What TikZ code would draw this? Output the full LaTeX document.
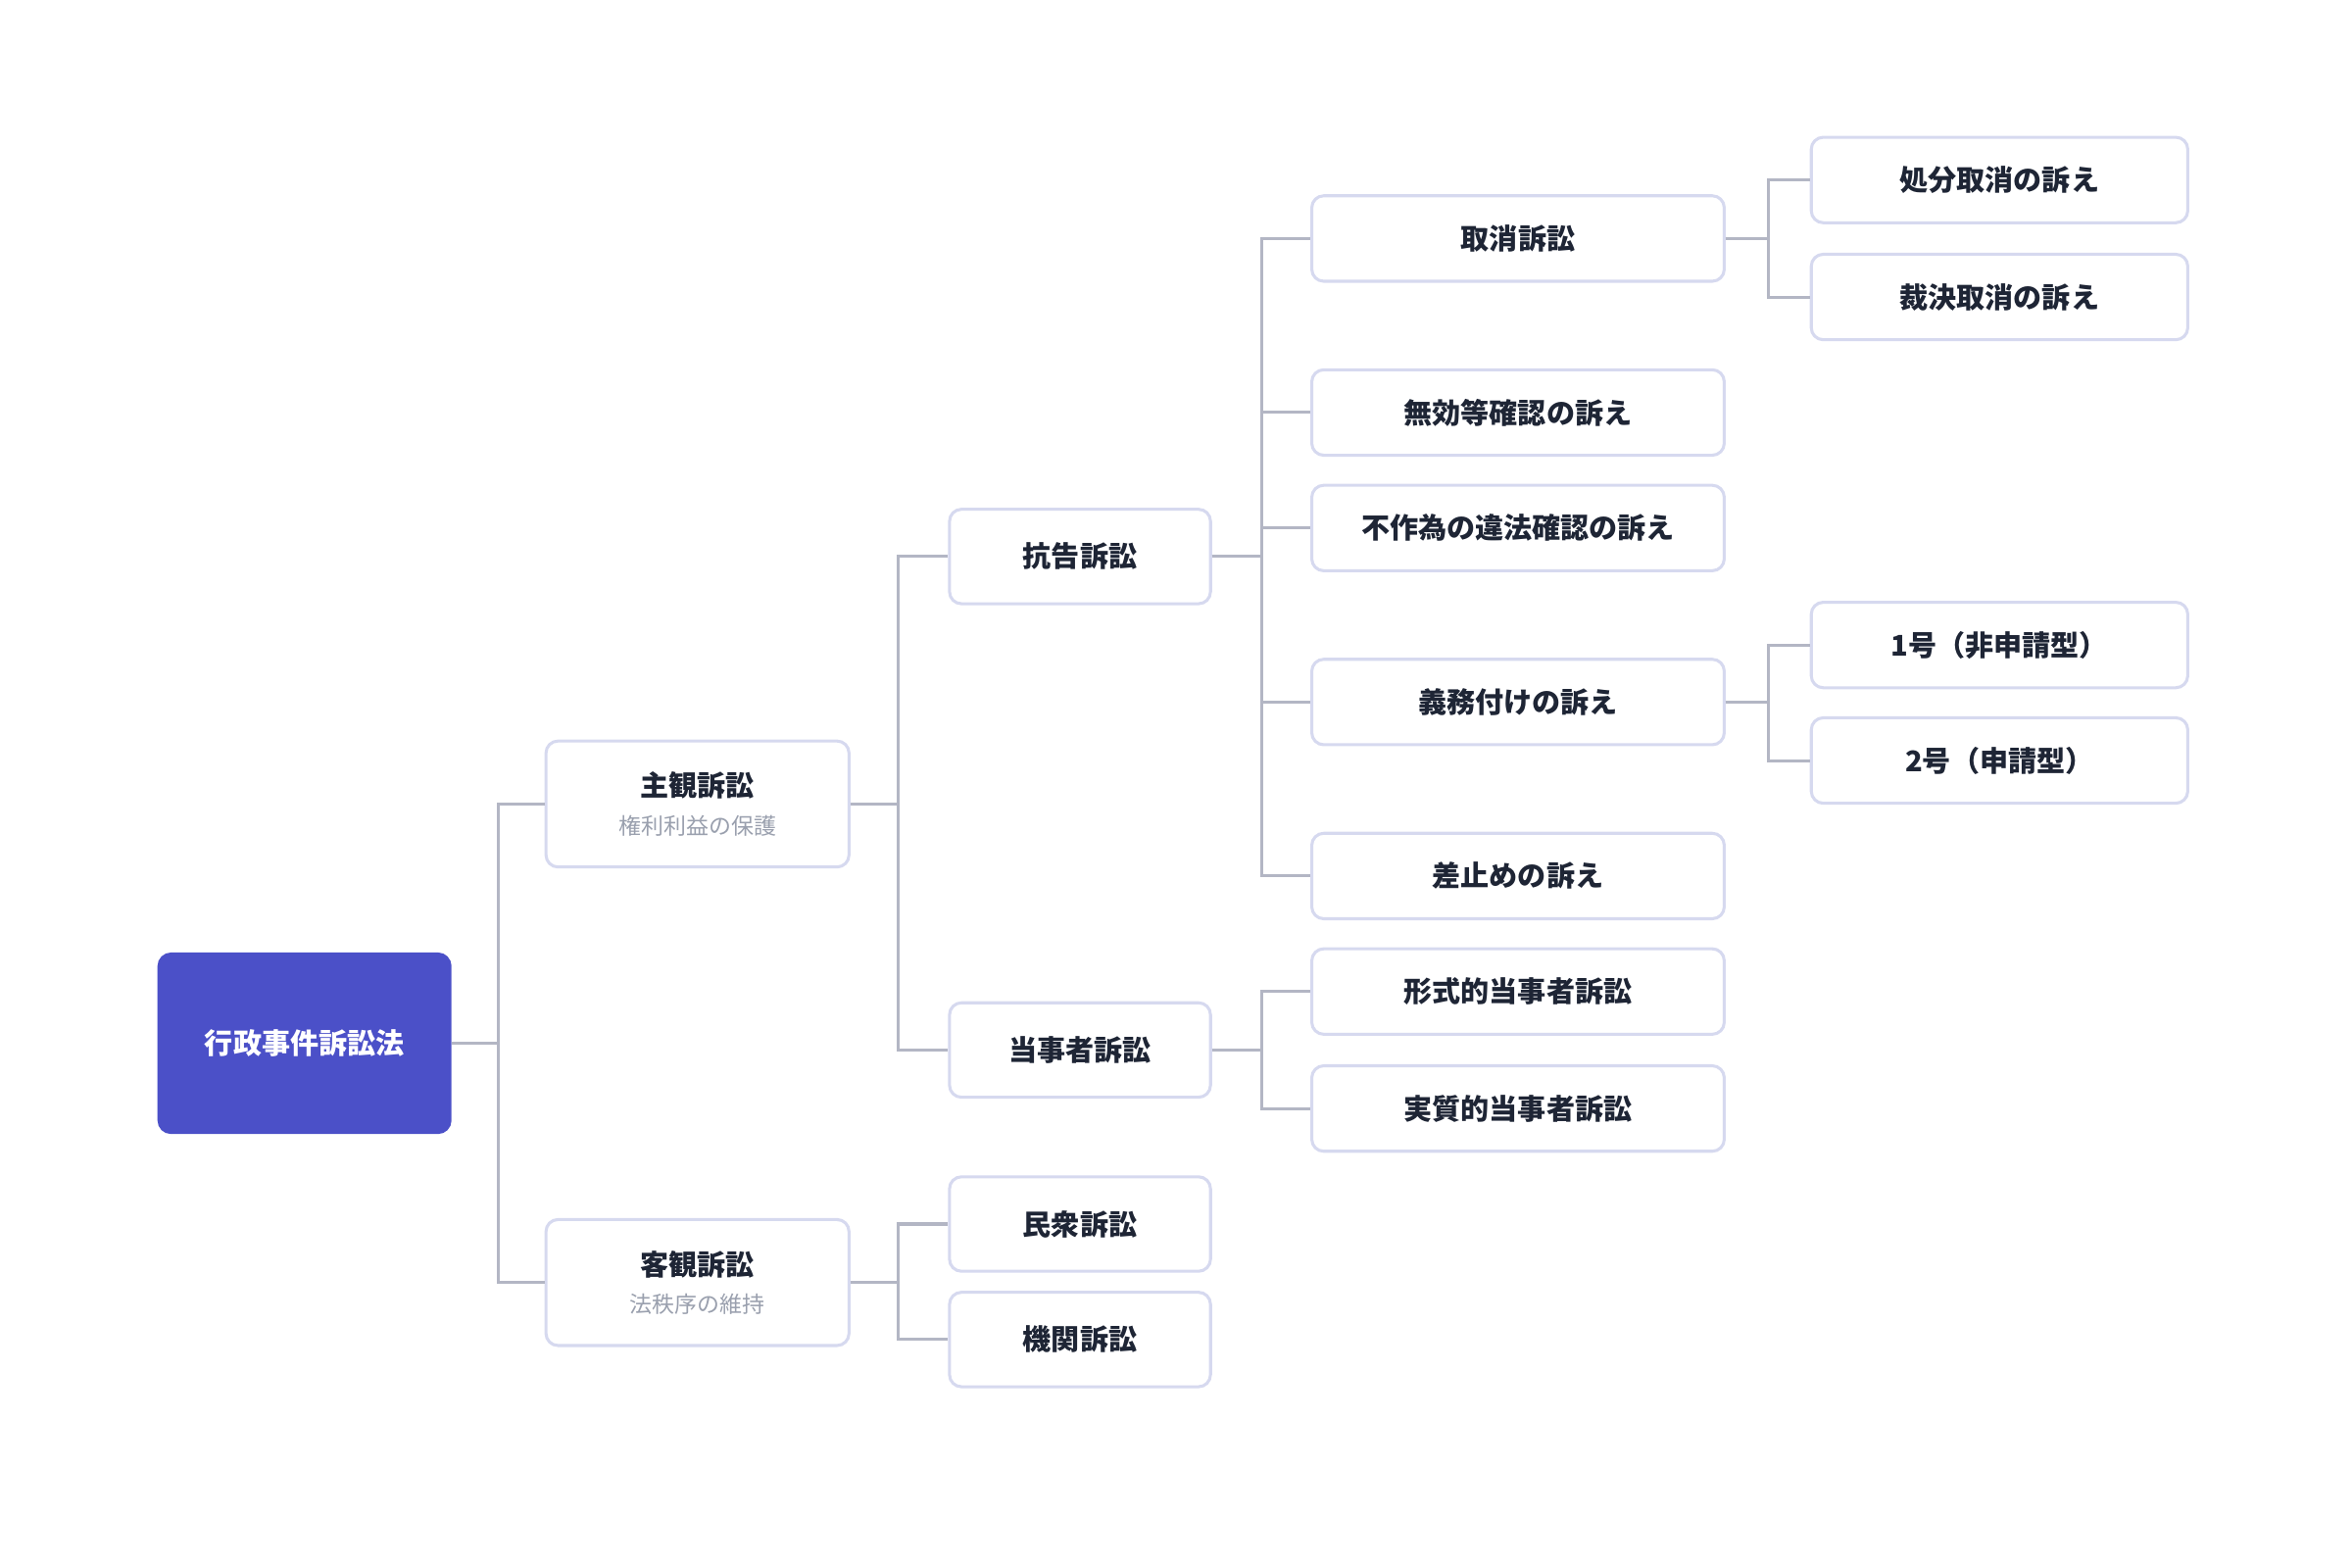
\documentclass[tikz,border=0pt]{standalone}
\usepackage{fontspec}
\setmainfont{Noto Sans CJK JP}
\usetikzlibrary{calc}
\definecolor{bd}{HTML}{D6D9EF}
\definecolor{ln}{HTML}{B3B6C4}
\definecolor{tx}{HTML}{1E2535}
\definecolor{sub}{HTML}{9AA0AE}
\definecolor{rootc}{HTML}{4B50C8}
\begin{document}
\begin{tikzpicture}[x=1pt,y=-1pt,
  box/.style={draw=bd,line width=2pt,rounded corners=8pt,fill=white,text=tx,font=\fontsize{19}{23}\selectfont\bfseries,inner sep=0pt},
  b3/.style={box,minimum width=174pt,minimum height=63pt},
  b4/.style={box,minimum width=275pt,minimum height=57pt},
  b5/.style={box,minimum width=251pt,minimum height=57pt},
  con/.style={draw=ln,line width=2pt}]
\useasboundingbox (0,0) rectangle (1568,1045);
\node[box,fill=rootc,draw=rootc,text=white,minimum width=194pt,minimum height=119pt] (root) at (203,695.5) {行政事件訴訟法};
\node[box,minimum width=202pt,minimum height=84pt,align=center] (shu) at (465,536) {主観訴訟\\[2pt]{\fontsize{15}{18}\selectfont\mdseries\color{sub}権利利益の保護}};
\node[box,minimum width=202pt,minimum height=84pt,align=center] (kyaku) at (465,855) {客観訴訟\\[2pt]{\fontsize{15}{18}\selectfont\mdseries\color{sub}法秩序の維持}};
\node[b3] (kou) at (720,371) {抗告訴訟};
\node[b3] (tou) at (720,700) {当事者訴訟};
\node[b3] (min) at (720,816) {民衆訴訟};
\node[b3] (kik) at (720,893) {機関訴訟};
\node[b4] (tori) at (1012,159) {取消訴訟};
\node[b4] (muko) at (1012,275) {無効等確認の訴え};
\node[b4] (fusa) at (1012,352) {不作為の違法確認の訴え};
\node[b4] (gimu) at (1012,468) {義務付けの訴え};
\node[b4] (sash) at (1012,584) {差止めの訴え};
\node[b4] (kei) at (1012,661) {形式的当事者訴訟};
\node[b4] (jis) at (1012,739) {実質的当事者訴訟};
\node[b5] (sho) at (1333,120) {処分取消の訴え};
\node[b5] (sai) at (1333,198) {裁決取消の訴え};
\node[b5] (g1) at (1333,430) {1号（非申請型）};
\node[b5] (g2) at (1333,507) {2号（申請型）};
\coordinate (x1) at (332,0);
\coordinate (x2) at (599,0);
\coordinate (x3) at (841,0);
\coordinate (x4) at (1179,0);
\foreach \p/\c/\b in {root/shu/x1,root/kyaku/x1,shu/kou/x2,shu/tou/x2,kyaku/min/x2,kyaku/kik/x2,kou/tori/x3,kou/muko/x3,kou/fusa/x3,kou/gimu/x3,kou/sash/x3,tou/kei/x3,tou/jis/x3,tori/sho/x4,tori/sai/x4,gimu/g1/x4,gimu/g2/x4}
  \draw[con] (\p.east) -- (\p.east -| \b) |- (\c.west);
\end{tikzpicture}
\end{document}
